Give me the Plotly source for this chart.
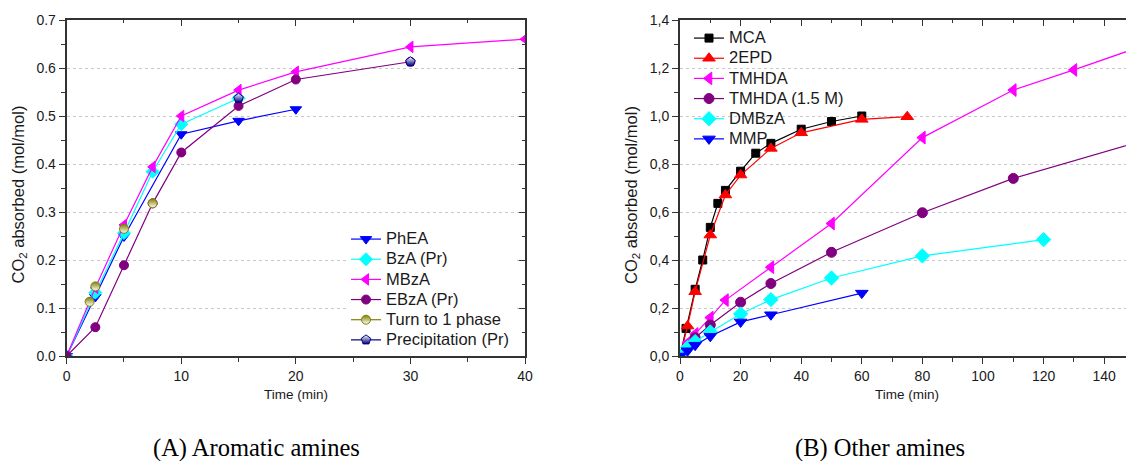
import plotly.graph_objects as go

W, H = 1126, 461

# ---------------- Data: (A) Aromatic amines ----------------
phea_t = [0, 2.5, 5, 10, 15, 20]
phea_v = [0.0, 0.123, 0.249, 0.462, 0.490, 0.514]

bza_t = [0, 2.5, 5, 7.5, 10, 15]
bza_v = [0.0, 0.132, 0.256, 0.384, 0.483, 0.537]

mbza_t = [0, 2.5, 5, 7.5, 10, 15, 20, 30, 40]
mbza_v = [0.0, 0.142, 0.273, 0.394, 0.500, 0.554, 0.592, 0.644, 0.660]

ebza_t = [0, 2.5, 5, 7.5, 10, 15, 20, 30]
ebza_v = [0.0, 0.060, 0.189, 0.318, 0.424, 0.521, 0.576, 0.613]

turn_t = [2, 2.5, 5, 7.5]
turn_v = [0.113, 0.145, 0.265, 0.318]

prec_t = [15, 30]
prec_v = [0.537, 0.613]

# ---------------- Data: (B) Other amines ----------------
mca_t = [0, 2, 5, 7.5, 10, 12.5, 15, 20, 25, 30, 40, 50, 60]
mca_v = [0.0, 0.115, 0.278, 0.400, 0.536, 0.636, 0.690, 0.770, 0.845, 0.886, 0.945, 0.977, 1.000]

epd_t = [0, 2.5, 5, 10, 15, 20, 30, 40, 60, 75]
epd_v = [0.0, 0.125, 0.268, 0.504, 0.671, 0.754, 0.865, 0.930, 0.986, 0.997]

tmhda_t = [0, 2.5, 5, 10, 15, 30, 50, 80, 110, 130, 160]
tmhda_v = [0.0, 0.055, 0.092, 0.160, 0.233, 0.370, 0.552, 0.910, 1.108, 1.192, 1.324]

tmhda15_t = [0, 2.5, 5, 10, 20, 30, 50, 80, 110, 170]
tmhda15_v = [0.0, 0.036, 0.076, 0.129, 0.224, 0.302, 0.432, 0.597, 0.740, 0.960]

dmbza_t = [0, 2.5, 5, 10, 20, 30, 50, 80, 120]
dmbza_v = [0.0, 0.035, 0.060, 0.100, 0.175, 0.235, 0.325, 0.417, 0.485]

mmp_t = [0, 2.5, 5, 10, 20, 30, 60]
mmp_v = [0.0, 0.022, 0.045, 0.082, 0.142, 0.172, 0.262]

# ---------------- Ticks ----------------
a_xticks = [0, 10, 20, 30, 40]
a_yticks = [0.0, 0.1, 0.2, 0.3, 0.4, 0.5, 0.6, 0.7]
a_ylabels = ["0.0", "0.1", "0.2", "0.3", "0.4", "0.5", "0.6", "0.7"]
b_xticks = [0, 20, 40, 60, 80, 100, 120, 140]
b_yticks = [0.0, 0.2, 0.4, 0.6, 0.8, 1.0, 1.2, 1.4]
b_ylabels = ["0,0", "0,2", "0,4", "0,6", "0,8", "1,0", "1,2", "1,4"]

FONT = "Liberation Sans, Arial, sans-serif"
AXC = "#333333"
TXT = "#1a1a1a"
LEG_TXT = 16.5


def px_x(p):
    return p / W


def px_y(p):
    return 1 - p / H


def gaps(ts, vs):
    xs, ys = [], []
    for t, v in zip(ts, vs):
        xs += [t, None]
        ys += [v, None]
    return xs[:-1], ys[:-1]


fig = go.Figure()


def add(t, v, name, color, symbol, size, xa, ya, legend, gradient=None, mcolor=None, isolated=False):
    if isolated:
        t, v = gaps(t, v)
    marker = dict(symbol=symbol, size=size, color=mcolor or color,
                  line=dict(color=color, width=1))
    if gradient:
        marker["gradient"] = dict(type="vertical", color=gradient)
    fig.add_trace(go.Scatter(
        x=t, y=v, name=f'<span style="font-size:{LEG_TXT}px">{name}</span>',
        mode="lines+markers",
        line=dict(color=color, width=1.2),
        marker=marker, xaxis=xa, yaxis=ya, legend=legend,
        connectgaps=False, hovertemplate=f"{name}: %{{x}}, %{{y}}<extra></extra>"))


# (A)
add(phea_t, phea_v, "PhEA", "#0000ff", "triangle-down", 10, "x", "y", "legend")
add(bza_t, bza_v, "BzA (Pr)", "#00ffff", "diamond", 10, "x", "y", "legend")
add(mbza_t, mbza_v, "MBzA", "#ff00ff", "triangle-left", 10, "x", "y", "legend")
add(ebza_t, ebza_v, "EBzA (Pr)", "#800080", "circle", 9, "x", "y", "legend")
add(turn_t, turn_v, "Turn to 1 phase", "#808000", "circle", 9, "x", "y", "legend",
    gradient="#ffffff", mcolor="#808000", isolated=True)
add(prec_t, prec_v, "Precipitation (Pr)", "#000080", "pentagon", 10, "x", "y", "legend",
    gradient="#000080", mcolor="#ffffff", isolated=True)

# (B)
add(mca_t, mca_v, "MCA", "#000000", "square", 8, "x2", "y2", "legend2")
add(epd_t, epd_v, "2EPD", "#ff0000", "triangle-up", 11, "x2", "y2", "legend2")
add(tmhda_t, tmhda_v, "TMHDA", "#ff00ff", "triangle-left", 11, "x2", "y2", "legend2")
add(tmhda15_t, tmhda15_v, "TMHDA (1.5 M)", "#800080", "circle", 10, "x2", "y2", "legend2")
add(dmbza_t, dmbza_v, "DMBzA", "#00ffff", "diamond", 11, "x2", "y2", "legend2")
add(mmp_t, mmp_v, "MMP", "#0000ff", "triangle-down", 11, "x2", "y2", "legend2")

# dummy traces to host the mirror axes (no visible marks)
fig.add_trace(go.Scatter(x=mbza_t, y=mbza_v, xaxis="x3", yaxis="y3", mode="none",
                         showlegend=False, hoverinfo="skip"))
fig.add_trace(go.Scatter(x=mca_t, y=mca_v, xaxis="x4", yaxis="y4", mode="none",
                         showlegend=False, hoverinfo="skip"))

ydom = [px_y(356), px_y(20)]
xdomA = [px_x(66.7), px_x(525)]
xdomB = [px_x(680), 1.0]
rangeA_x = [0, 40]
rangeA_y = [0, 0.7]
rangeB_x = [0, 147.2]
rangeB_y = [0, 1.4]

tickfont = dict(family=FONT, size=14, color=TXT)

common = dict(showline=True, linecolor=AXC, linewidth=2, ticks="outside",
              ticklen=6, tickwidth=1.3, tickcolor=AXC, tickfont=tickfont,
              zeroline=False, automargin=False)
mirror = dict(showticklabels=False, showgrid=False, showline=True, linecolor=AXC, linewidth=2,
              ticks="inside", ticklen=6, tickwidth=1.3, tickcolor=AXC, zeroline=False,
              automargin=False)

fig.update_layout(
    width=W, height=H, autosize=False,
    margin=dict(l=0, r=0, t=0, b=0, pad=0, autoexpand=False),
    paper_bgcolor="white", plot_bgcolor="white",
    font=dict(family=FONT, color=TXT),
    xaxis=dict(domain=xdomA, range=rangeA_x, anchor="y", tickvals=a_xticks,
               showgrid=False,
               minor=dict(ticks="outside", ticklen=4, dtick=5, tickcolor=AXC, tickwidth=1.3, showgrid=False),
               **common),
    yaxis=dict(domain=ydom, range=rangeA_y, anchor="x", tickvals=a_yticks, ticktext=a_ylabels,
               showgrid=True, gridcolor="#c8c8c8", griddash="dot", gridwidth=1,
               minor=dict(ticks="outside", ticklen=4, dtick=0.05, tickcolor=AXC, tickwidth=1.3, showgrid=False),
               **common),
    xaxis3=dict(overlaying="x", side="top", anchor="y", range=rangeA_x, tickvals=a_xticks,
                minor=dict(ticks="inside", ticklen=3, dtick=5, tickcolor=AXC, tickwidth=1.3, showgrid=False),
                **mirror),
    yaxis3=dict(overlaying="y", side="right", anchor="x", range=rangeA_y, tickvals=a_yticks,
                minor=dict(ticks="inside", ticklen=3, dtick=0.05, tickcolor=AXC, tickwidth=1.3, showgrid=False),
                **mirror),
    xaxis2=dict(domain=xdomB, range=rangeB_x, anchor="y2", tickvals=b_xticks,
                showgrid=False,
                minor=dict(ticks="outside", ticklen=4, dtick=10, tickcolor=AXC, tickwidth=1.3, showgrid=False),
                **common),
    yaxis2=dict(domain=ydom, range=rangeB_y, anchor="x2", tickvals=b_yticks, ticktext=b_ylabels,
                showgrid=True, gridcolor="#c8c8c8", griddash="dot", gridwidth=1,
                minor=dict(ticks="outside", ticklen=4, dtick=0.1, tickcolor=AXC, tickwidth=1.3, showgrid=False),
                **common),
    xaxis4=dict(overlaying="x2", side="top", anchor="y2", range=rangeB_x, tickvals=b_xticks,
                minor=dict(ticks="inside", ticklen=3, dtick=10, tickcolor=AXC, tickwidth=1.3, showgrid=False),
                **mirror),
    yaxis4=dict(overlaying="y2", side="right", anchor="x2", range=rangeB_y, visible=False),
    legend=dict(x=px_x(346), y=px_y(224), xanchor="left", yanchor="top",
                bgcolor="white", borderwidth=0, font=dict(family=FONT, size=13.2, color=TXT),
                tracegroupgap=0),
    legend2=dict(x=px_x(689), y=px_y(23), xanchor="left", yanchor="top",
                 bgcolor="rgba(0,0,0,0)", borderwidth=0, font=dict(family=FONT, size=13.2, color=TXT),
                 tracegroupgap=0),
    showlegend=True,
)

ann = []
ytitle = "CO<sub>2</sub> absorbed (mol/mol)"
common_ann = dict(xref="paper", yref="paper", showarrow=False, xanchor="center", yanchor="middle")
ann.append(dict(text=ytitle, x=px_x(18.5), y=px_y(195), textangle=-90,
                font=dict(family=FONT, size=16.5, color=TXT), **common_ann))
ann.append(dict(text=ytitle, x=px_x(632), y=px_y(195), textangle=-90,
                font=dict(family=FONT, size=16.5, color=TXT), **common_ann))
ann.append(dict(text="Time (min)", x=px_x(296), y=px_y(394),
                font=dict(family=FONT, size=13.5, color=TXT), **common_ann))
ann.append(dict(text="Time (min)", x=px_x(907), y=px_y(394),
                font=dict(family=FONT, size=13.5, color=TXT), **common_ann))
ann.append(dict(text="(A) Aromatic amines", x=px_x(256), y=px_y(448),
                font=dict(family="Liberation Serif, Times New Roman, serif", size=24.5, color="#000"), **common_ann))
ann.append(dict(text="(B) Other amines", x=px_x(880), y=px_y(448),
                font=dict(family="Liberation Serif, Times New Roman, serif", size=24.5, color="#000"), **common_ann))
fig.update_layout(annotations=ann)

fig.write_html("out.html", config={"responsive": False, "displayModeBar": False},
               post_script="document.body.style.margin='0';document.body.style.overflow='hidden';")
